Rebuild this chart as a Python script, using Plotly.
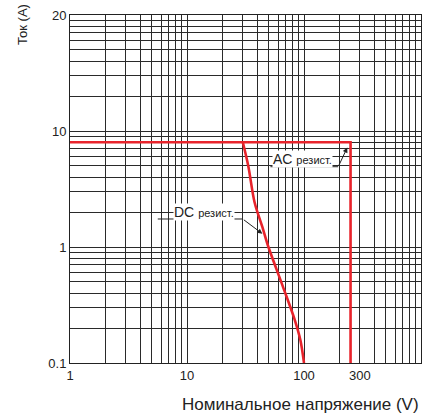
import plotly.graph_objects as go

# ---- data ----
ac_x = [1, 250, 250]
ac_y = [8, 8, 0.1]

dc_x = [30, 33.4, 37.8, 44.5, 49, 65.8, 82.8, 93.2, 100]
dc_y = [8, 5, 2.43, 1.44, 1.04, 0.46, 0.24, 0.157, 0.1]

x_grid_vals = [1, 2, 3, 4, 5, 6, 7, 8, 9,
               10, 20, 30, 40, 50, 60, 70, 80, 90,
               100, 200, 300, 400, 500, 600, 700, 800, 900, 1000]
x_tick_text = {1: "1", 10: "10", 100: "100", 300: "300"}

y_grid_vals = [0.1, 0.2, 0.3, 0.4, 0.5, 0.6, 0.7, 0.8, 0.9,
               1, 2, 3, 4, 5, 6, 7, 8, 9,
               10, 20, 30, 40, 50, 60, 70, 80, 90, 100]
y_tick_text = {0.1: "0.1", 1: "1", 10: "10", 100: "20"}

RED = "#e8232b"
FONT = "Liberation Sans, Arial, sans-serif"

fig = go.Figure()
fig.add_trace(go.Scatter(x=ac_x, y=ac_y, mode="lines",
                         line=dict(color=RED, width=2.6), showlegend=False))
fig.add_trace(go.Scatter(x=dc_x, y=dc_y, mode="lines",
                         line=dict(color=RED, width=2.6, shape="spline", smoothing=0.9),
                         showlegend=False))

fig.update_xaxes(type="log", range=[0, 3],
                 tickmode="array", tickvals=x_grid_vals,
                 ticktext=[x_tick_text.get(v, "") for v in x_grid_vals],
                 showgrid=True, gridcolor="#2a2a2a", gridwidth=1,
                 showline=True, linecolor="#222", linewidth=1, mirror=True,
                 ticks="", zeroline=False,
                 tickfont=dict(family=FONT, size=13, color="#222"))
fig.update_yaxes(type="log", range=[-1, 2],
                 tickmode="array", tickvals=y_grid_vals,
                 ticktext=[y_tick_text.get(v, "") for v in y_grid_vals],
                 showgrid=True, gridcolor="#2a2a2a", gridwidth=1,
                 showline=True, linecolor="#222", linewidth=1, mirror=True,
                 ticks="", zeroline=False,
                 tickfont=dict(family=FONT, size=13, color="#222"))

# underlines for labels
fig.add_shape(type="line", xref="paper", yref="paper",
              x0=0.571, x1=0.764, y0=0.564, y1=0.564,
              line=dict(color="#222", width=1))
fig.add_shape(type="line", xref="paper", yref="paper",
              x0=0.25, x1=0.4915, y0=0.4138, y1=0.4138,
              line=dict(color="#222", width=1))

fig.add_annotation(xref="paper", yref="paper", x=0.662, y=0.5876,
                   text="AC <span style='font-size:11px'>резист.</span>",
                   showarrow=False, bgcolor="white", borderpad=0,
                   font=dict(family=FONT, size=14, color="#222"))
fig.add_annotation(xref="paper", yref="paper", x=0.790, y=0.619,
                   text="", showarrow=True, ax=-9, ay=19,
                   arrowhead=2, arrowsize=1, arrowwidth=1, arrowcolor="#222")

fig.add_annotation(xref="paper", yref="paper", x=0.383, y=0.435,
                   text="DC <span style='font-size:11px'>резист.</span>",
                   showarrow=False, bgcolor="white", borderpad=0,
                   font=dict(family=FONT, size=14, color="#222"))
fig.add_annotation(xref="paper", yref="paper", x=0.548, y=0.3715,
                   text="", showarrow=True, ax=-20, ay=-15,
                   arrowhead=2, arrowsize=1, arrowwidth=1, arrowcolor="#222")

# axis titles
fig.add_annotation(xref="paper", yref="paper", x=-0.1335, y=0.972,
                   text="Ток (A)", textangle=-90, showarrow=False,
                   xanchor="center", yanchor="middle",
                   font=dict(family=FONT, size=13, color="#222"))
fig.add_annotation(xref="paper", yref="paper", x=1.0, y=-0.119,
                   text="Номинальное напряжение (V)", showarrow=False,
                   xanchor="right", yanchor="middle",
                   font=dict(family=FONT, size=17, color="#222"))

fig.update_layout(width=430, height=418,
                  margin=dict(l=70, r=8, t=9, b=55),
                  paper_bgcolor="white", plot_bgcolor="white")

fig.write_html("out.html", config={"displayModeBar": False},
               post_script="document.body.style.margin='0';")
